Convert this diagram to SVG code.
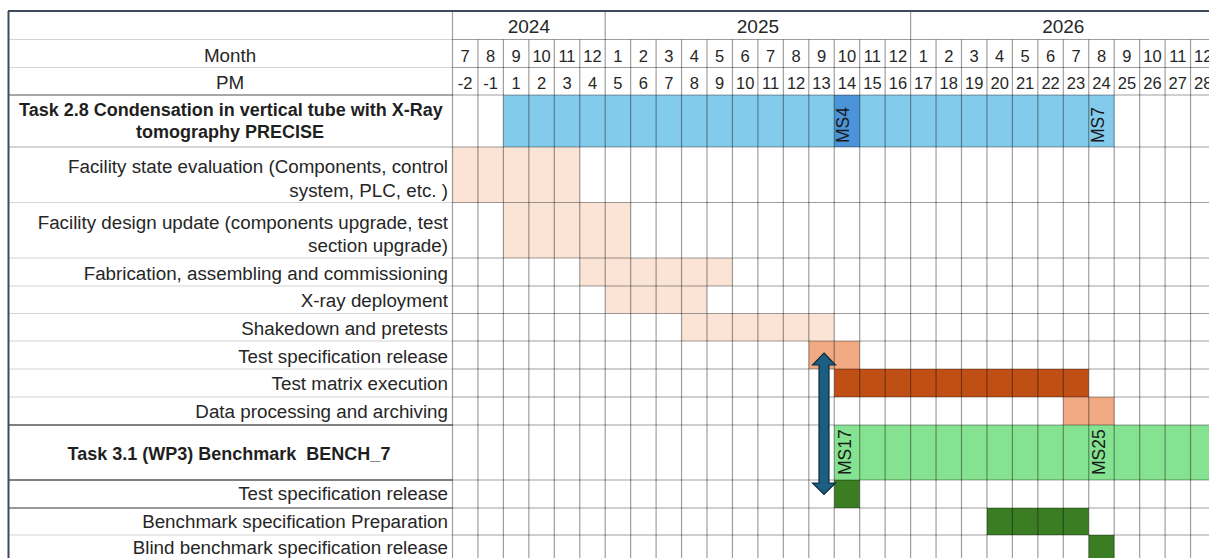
<svg xmlns="http://www.w3.org/2000/svg" width="1209" height="558" viewBox="0 0 1209 558">
  <style>
    .lbl { font-family: "Liberation Sans", Arial, sans-serif; font-size: 18.8px; fill: #262626; text-anchor: end; }
    .ttl { font-family: "Liberation Sans", Arial, sans-serif; font-size: 18px; font-weight: bold; fill: #1f1f1f; text-anchor: middle; white-space: pre; }
    .hdr { font-family: "Liberation Sans", Arial, sans-serif; font-size: 18.8px; fill: #262626; text-anchor: middle; }
    .yr { font-family: "Liberation Sans", Arial, sans-serif; font-size: 19px; fill: #262626; text-anchor: middle; }
    .num { font-family: "Liberation Sans", Arial, sans-serif; font-size: 16.5px; fill: #262626; text-anchor: middle; }
    .ms { font-family: "Liberation Sans", Arial, sans-serif; font-size: 17.5px; fill: #1a1a1a; }
    .grid line { stroke: #000; stroke-opacity: 0.38; stroke-width: 1.2; }
    .lgrid line { stroke: #d4d4d4; stroke-width: 1.2; }
    .blue { fill: #83cbeb; }
    .blue-ms { fill: #4c94d8; }
    .peach { fill: #fbe3d6; }
    .orange-lt { fill: #f1a983; }
    .orange-dk { fill: #c04f15; }
    .green-lt { fill: #84e291; }
    .green-dk { fill: #3b7d23; }
  </style>

  <rect width="1209" height="558" fill="#ffffff"/>

  <!-- bar fills -->
  <g id="bars">
    <g id="task28-bar">
      <rect class="blue" x="503.4" y="95" width="610.8" height="52"/>
      <rect class="blue-ms" x="834.25" y="95" width="25.45" height="52"/>
    </g>
    <rect id="facility-state-bar" class="peach" x="452.5" y="147" width="127.25" height="55.5"/>
    <rect id="facility-design-bar" class="peach" x="503.4" y="202.5" width="127.25" height="55.5"/>
    <rect id="fabrication-bar" class="peach" x="579.75" y="258" width="152.7" height="28"/>
    <rect id="xray-bar" class="peach" x="605.2" y="286" width="101.8" height="27.5"/>
    <rect id="shakedown-bar" class="peach" x="681.55" y="313.5" width="152.7" height="27.5"/>
    <rect id="test-spec-bar" class="orange-lt" x="808.8" y="341" width="50.9" height="28"/>
    <rect id="test-matrix-bar" class="orange-dk" x="834.25" y="369" width="254.5" height="28"/>
    <rect id="data-processing-bar" class="orange-lt" x="1063.3" y="397" width="50.9" height="28"/>
    <rect id="task31-bar" class="green-lt" x="834.25" y="425" width="380" height="55"/>
    <rect id="test-spec-31-bar" class="green-dk" x="834.25" y="480" width="25.45" height="28"/>
    <rect id="benchmark-prep-bar" class="green-dk" x="986.95" y="508" width="101.8" height="27"/>
    <rect id="blind-benchmark-bar" class="green-dk" x="1088.75" y="535" width="25.45" height="30"/>
  </g>

  <!-- label column row separators -->
  <g class="lgrid">
    <line x1="8" y1="39.5" x2="452.5" y2="39.5"/>
    <line x1="8" y1="67.5" x2="452.5" y2="67.5"/>
    <line x1="8" y1="202.5" x2="452.5" y2="202.5"/>
    <line x1="8" y1="258" x2="452.5" y2="258"/>
    <line x1="8" y1="286" x2="452.5" y2="286"/>
    <line x1="8" y1="313.5" x2="452.5" y2="313.5"/>
    <line x1="8" y1="341" x2="452.5" y2="341"/>
    <line x1="8" y1="369" x2="452.5" y2="369"/>
    <line x1="8" y1="397" x2="452.5" y2="397"/>
    <line x1="8" y1="535" x2="452.5" y2="535"/>
  </g>
  <g stroke="#555" stroke-width="1.3">
    <line x1="8" y1="95" x2="452.5" y2="95" stroke="#8a8a8a"/>
    <line x1="8" y1="147" x2="452.5" y2="147" stroke="#c8c8c8"/>
    <line x1="8" y1="425" x2="452.5" y2="425"/>
    <line x1="8" y1="480" x2="452.5" y2="480"/>
    <line x1="8" y1="508" x2="452.5" y2="508" stroke="#777"/>
  </g>

  <!-- timeline grid -->
  <g class="grid">
    <line x1="452.5" y1="39.5" x2="1209" y2="39.5"/>
    <line x1="452.5" y1="67.5" x2="1209" y2="67.5"/>
    <line x1="452.5" y1="95" x2="1209" y2="95"/>
    <line x1="452.5" y1="147" x2="1209" y2="147"/>
    <line x1="452.5" y1="202.5" x2="1209" y2="202.5"/>
    <line x1="452.5" y1="258" x2="1209" y2="258"/>
    <line x1="452.5" y1="286" x2="1209" y2="286"/>
    <line x1="452.5" y1="313.5" x2="1209" y2="313.5"/>
    <line x1="452.5" y1="341" x2="1209" y2="341"/>
    <line x1="452.5" y1="369" x2="1209" y2="369"/>
    <line x1="452.5" y1="397" x2="1209" y2="397"/>
    <line x1="452.5" y1="425" x2="1209" y2="425" stroke-opacity="0.6"/>
    <line x1="452.5" y1="480" x2="1209" y2="480" stroke-opacity="0.55"/>
    <line x1="452.5" y1="508" x2="1209" y2="508" stroke-opacity="0.5"/>
    <line x1="452.5" y1="535" x2="1209" y2="535"/>

    <line x1="452.5" y1="11" x2="452.5" y2="558"/>
    <line x1="477.95" y1="39.5" x2="477.95" y2="558"/>
    <line x1="503.4" y1="39.5" x2="503.4" y2="558"/>
    <line x1="528.85" y1="39.5" x2="528.85" y2="558"/>
    <line x1="554.3" y1="39.5" x2="554.3" y2="558"/>
    <line x1="579.75" y1="39.5" x2="579.75" y2="558"/>
    <line x1="605.2" y1="11" x2="605.2" y2="558"/>
    <line x1="630.65" y1="39.5" x2="630.65" y2="558"/>
    <line x1="656.1" y1="39.5" x2="656.1" y2="558"/>
    <line x1="681.55" y1="39.5" x2="681.55" y2="558"/>
    <line x1="707" y1="39.5" x2="707" y2="558"/>
    <line x1="732.45" y1="39.5" x2="732.45" y2="558"/>
    <line x1="757.9" y1="39.5" x2="757.9" y2="558"/>
    <line x1="783.35" y1="39.5" x2="783.35" y2="558"/>
    <line x1="808.8" y1="39.5" x2="808.8" y2="558"/>
    <line x1="834.25" y1="39.5" x2="834.25" y2="558"/>
    <line x1="859.7" y1="39.5" x2="859.7" y2="558"/>
    <line x1="885.15" y1="39.5" x2="885.15" y2="558"/>
    <line x1="910.6" y1="11" x2="910.6" y2="558"/>
    <line x1="936.05" y1="39.5" x2="936.05" y2="558"/>
    <line x1="961.5" y1="39.5" x2="961.5" y2="558"/>
    <line x1="986.95" y1="39.5" x2="986.95" y2="558"/>
    <line x1="1012.4" y1="39.5" x2="1012.4" y2="558"/>
    <line x1="1037.85" y1="39.5" x2="1037.85" y2="558"/>
    <line x1="1063.3" y1="39.5" x2="1063.3" y2="558"/>
    <line x1="1088.75" y1="39.5" x2="1088.75" y2="558"/>
    <line x1="1114.2" y1="39.5" x2="1114.2" y2="558"/>
    <line x1="1139.65" y1="39.5" x2="1139.65" y2="558"/>
    <line x1="1165.1" y1="39.5" x2="1165.1" y2="558"/>
    <line x1="1190.55" y1="39.5" x2="1190.55" y2="558"/>
  </g>

  <!-- outer frame -->
  <g stroke="#3d4b5c" stroke-width="2">
    <line x1="8" y1="11" x2="1209" y2="11"/>
    <line x1="8.5" y1="11" x2="8.5" y2="558"/>
  </g>

  <!-- header -->
  <g id="header">
    <text class="yr" x="528.85" y="33">2024</text>
    <text class="yr" x="757.9" y="33">2025</text>
    <text class="yr" x="1063.3" y="33">2026</text>
    <text class="hdr" x="230" y="61.5">Month</text>
    <text class="hdr" x="230" y="89">PM</text>
    <g class="num">
      <text x="465.2" y="61.7">7</text><text x="490.7" y="61.7">8</text><text x="516.1" y="61.7">9</text>
      <text x="541.6" y="61.7">10</text><text x="567" y="61.7">11</text><text x="592.5" y="61.7">12</text>
      <text x="617.9" y="61.7">1</text><text x="643.4" y="61.7">2</text><text x="668.8" y="61.7">3</text>
      <text x="694.3" y="61.7">4</text><text x="719.7" y="61.7">5</text><text x="745.2" y="61.7">6</text>
      <text x="770.6" y="61.7">7</text><text x="796.1" y="61.7">8</text><text x="821.5" y="61.7">9</text>
      <text x="847" y="61.7">10</text><text x="872.4" y="61.7">11</text><text x="897.9" y="61.7">12</text>
      <text x="923.3" y="61.7">1</text><text x="948.8" y="61.7">2</text><text x="974.2" y="61.7">3</text>
      <text x="999.7" y="61.7">4</text><text x="1025.1" y="61.7">5</text><text x="1050.6" y="61.7">6</text>
      <text x="1076" y="61.7">7</text><text x="1101.5" y="61.7">8</text><text x="1126.9" y="61.7">9</text>
      <text x="1152.4" y="61.7">10</text><text x="1177.8" y="61.7">11</text><text x="1203.3" y="61.7">12</text>

      <text x="465.2" y="89.3">-2</text><text x="490.7" y="89.3">-1</text><text x="516.1" y="89.3">1</text>
      <text x="541.6" y="89.3">2</text><text x="567" y="89.3">3</text><text x="592.5" y="89.3">4</text>
      <text x="617.9" y="89.3">5</text><text x="643.4" y="89.3">6</text><text x="668.8" y="89.3">7</text>
      <text x="694.3" y="89.3">8</text><text x="719.7" y="89.3">9</text><text x="745.2" y="89.3">10</text>
      <text x="770.6" y="89.3">11</text><text x="796.1" y="89.3">12</text><text x="821.5" y="89.3">13</text>
      <text x="847" y="89.3">14</text><text x="872.4" y="89.3">15</text><text x="897.9" y="89.3">16</text>
      <text x="923.3" y="89.3">17</text><text x="948.8" y="89.3">18</text><text x="974.2" y="89.3">19</text>
      <text x="999.7" y="89.3">20</text><text x="1025.1" y="89.3">21</text><text x="1050.6" y="89.3">22</text>
      <text x="1076" y="89.3">23</text><text x="1101.5" y="89.3">24</text><text x="1126.9" y="89.3">25</text>
      <text x="1152.4" y="89.3">26</text><text x="1177.8" y="89.3">27</text><text x="1203.3" y="89.3">28</text>
    </g>
  </g>

  <!-- task labels -->
  <g id="task28">
    <text class="ttl" x="231" y="115.5">Task 2.8 Condensation in vertical tube with X-Ray</text>
    <text class="ttl" x="230" y="138">tomography PRECISE</text>
  </g>
  <g id="facility-state"><text class="lbl" x="448" y="173">Facility state evaluation (Components, control</text><text class="lbl" x="448" y="196.5">system, PLC, etc. )</text></g>
  <g id="facility-design"><text class="lbl" x="448" y="228.5">Facility design update (components upgrade, test</text><text class="lbl" x="448" y="251.5">section upgrade)</text></g>
  <g id="fabrication"><text class="lbl" x="448" y="279.5">Fabrication, assembling and commissioning</text></g>
  <g id="xray"><text class="lbl" x="448" y="306.5">X-ray deployment</text></g>
  <g id="shakedown"><text class="lbl" x="448" y="334.5">Shakedown and pretests</text></g>
  <g id="test-spec"><text class="lbl" x="448" y="362.5">Test specification release</text></g>
  <g id="test-matrix"><text class="lbl" x="448" y="390">Test matrix execution</text></g>
  <g id="data-processing"><text class="lbl" x="448" y="417.5">Data processing and archiving</text></g>
  <g id="task31"><text class="ttl" x="229" y="459.5">Task 3.1 (WP3) Benchmark  BENCH_7</text></g>
  <g id="test-spec-31"><text class="lbl" x="448" y="500">Test specification release</text></g>
  <g id="benchmark-prep"><text class="lbl" x="448" y="527.5">Benchmark specification Preparation</text></g>
  <g id="blind-benchmark"><text class="lbl" x="448" y="554">Blind benchmark specification release</text></g>

  <!-- milestones -->
  <g id="milestones">
    <text class="ms" transform="translate(849,143) rotate(-90)">MS4</text>
    <text class="ms" transform="translate(1104,143) rotate(-90)">MS7</text>
    <text class="ms" transform="translate(850.5,475) rotate(-90)">MS17</text>
    <text class="ms" transform="translate(1105,475) rotate(-90)">MS25</text>
  </g>

  <!-- connectors -->
  <g id="connectors">
    <path d="M824,353 L835.5,365 L829,365 L829,483 L835.5,483 L824,494.5 L812.5,483 L819,483 L819,365 L812.5,365 Z" fill="#1b5e82" stroke="#0e2c3d" stroke-width="1.2" stroke-linejoin="miter"/>
  </g>
</svg>
